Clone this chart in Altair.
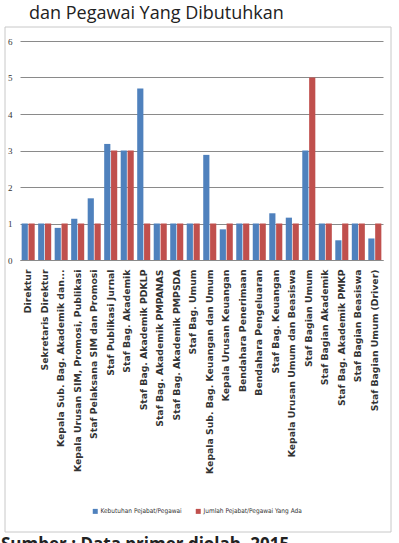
import altair as alt
import pandas as pd

# Positions (jabatan) in the order they appear along the axis
jabatan = [
    "Direktur",
    "Sekretaris Direktur",
    "Kepala Sub. Bag. Akademik dan...",
    "Kepala Urusan SIM, Promosi, Publikasi",
    "Staf Pelaksana SIM dan Promosi",
    "Staf Publikasi Jurnal",
    "Staf Bag. Akademik",
    "Staf Bag. Akademik PDKLP",
    "Staf Bag. Akademik PMPANAS",
    "Staf Bag. Akademik PMPSDA",
    "Staf Bag. Umum",
    "Kepala Sub. Bag. Keuangan dan Umum",
    "Kepala Urusan Keuangan",
    "Bendahara Penerimaan",
    "Bendahara Pengeluaran",
    "Staf Bag. Keuangan",
    "Kepala Urusan Umum dan Beasiswa",
    "Staf Bagian Umum",
    "Staf Bagian Akademik",
    "Staf Bag. Akademik PMKP",
    "Staf Bagian Beasiswa",
    "Staf Bagian Umum (Driver)",
]

# Required staff (Kebutuhan) per position
kebutuhan = [1, 1, 0.88, 1.13, 1.69, 3.18, 3, 4.7, 1, 1, 1,
             2.88, 0.84, 1, 1, 1.28, 1.16, 3, 1, 0.54, 1, 0.59]

# Existing staff (Jumlah yang ada) per position
jumlah_ada = [1, 1, 1, 1, 1, 3, 3, 1, 1, 1, 1,
              1, 1, 1, 1, 1, 1, 5, 1, 1, 1, 1]

seri = ["Kebutuhan Pejabat/Pegawai", "Jumlah Pejabat/Pegawai Yang Ada"]
warna = ["#4F81BD", "#C0504D"]
y_ticks = [0, 1, 2, 3, 4, 5, 6]

judul = "dan Pegawai Yang Dibutuhkan"
sumber = "Sumber : Data primer diolah, 2015"

rows = []
for j, a, b in zip(jabatan, kebutuhan, jumlah_ada):
    rows.append({"Jabatan": j, "Seri": seri[0], "Nilai": a})
    rows.append({"Jabatan": j, "Seri": seri[1], "Nilai": b})
df = pd.DataFrame(rows)

bars = alt.Chart(df).mark_bar().encode(
    x=alt.X(
        "Jabatan:N",
        sort=jabatan,
        title=None,
        scale=alt.Scale(paddingInner=0.21, paddingOuter=0.1),
        axis=alt.Axis(
            labelAngle=270,
            labelAlign="right",
            labelBaseline="middle",
            labelFont="DejaVu Sans",
            labelFontWeight="bold",
            labelFontSize=9.3,
            labelColor="#333333",
            labelPadding=9,
            labelLimit=260,
            ticks=False,
            domainColor="#8a8a8a",
            grid=False,
        ),
    ),
    xOffset=alt.XOffset("Seri:N", sort=seri, scale=alt.Scale(paddingInner=0.1)),
    y=alt.Y(
        "Nilai:Q",
        title=None,
        scale=alt.Scale(domain=[0, 6], nice=False),
        axis=alt.Axis(
            values=y_ticks,
            grid=True,
            gridColor="#8a8a8a",
            domain=False,
            ticks=False,
            labelFont="Liberation Serif",
            labelFontSize=9,
            labelColor="#333333",
            labelPadding=8,
        ),
    ),
    color=alt.Color(
        "Seri:N",
        sort=seri,
        scale=alt.Scale(domain=seri, range=warna),
        legend=alt.Legend(
            title=None,
            orient="none",
            direction="horizontal",
            legendX=72,
            legendY=467,
            symbolType="square",
            symbolSize=25,
            symbolStrokeWidth=0,
            labelFont="DejaVu Sans Condensed",
            labelFontSize=6.5,
            labelColor="#333333",
            labelOffset=2,
            columnPadding=13,
        ),
    ),
)

# Outer chart border
frame = alt.Chart(alt.Data(values=[{}])).mark_rect(
    fill="transparent", stroke="#c8c8c8", strokeWidth=1
).encode(
    x=alt.value(-15), x2=alt.value(371), y=alt.value(-14), y2=alt.value(491)
)

title_text = alt.Chart(alt.Data(values=[{"t": judul}])).mark_text(
    align="left", baseline="alphabetic", font="Open Sans", fontSize=18, color="#222222"
).encode(text="t:N", x=alt.value(9), y=alt.value(-22))

source_text = alt.Chart(alt.Data(values=[{"t": sumber}])).mark_text(
    align="left", baseline="top", font="Open Sans", fontSize=17, fontWeight="bold",
    color="#222222"
).encode(text="t:N", x=alt.value(-19), y=alt.value(496))

chart = alt.layer(frame, bars, title_text, source_text).properties(
    width=363,
    height=219,
    autosize=alt.AutoSizeParams(type="none"),
    padding={"left": 20, "top": 41, "right": 16, "bottom": 283},
    background="white",
).configure_view(stroke=None)

chart.save("out.html", embed_options={"renderer": "svg", "actions": False})
